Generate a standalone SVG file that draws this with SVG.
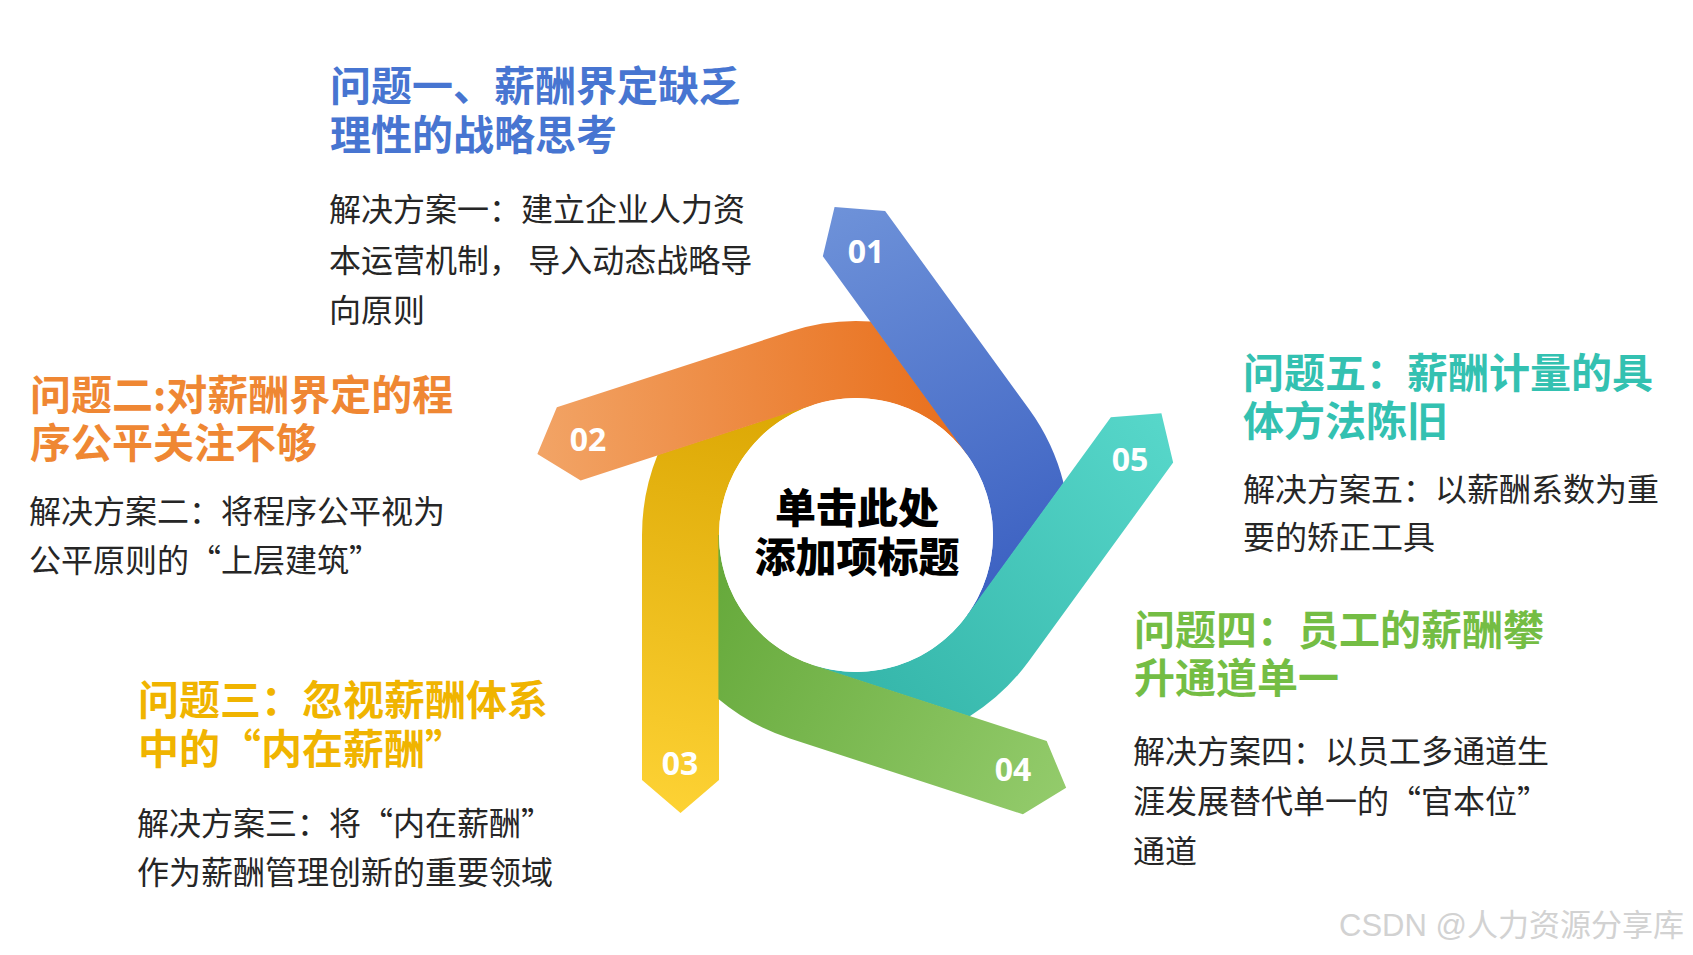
<svg xmlns="http://www.w3.org/2000/svg" width="1693" height="955" viewBox="0 0 1693 955">
  <defs>
    <linearGradient id="gBlue" gradientUnits="userSpaceOnUse" x1="680" y1="813" x2="760" y2="420">
      <stop offset="0" stop-color="#6E92D9"/>
      <stop offset="1" stop-color="#3E63C3"/>
    </linearGradient>
    <linearGradient id="gOrange" gradientUnits="userSpaceOnUse" x1="680" y1="813" x2="760" y2="420">
      <stop offset="0" stop-color="#F2A466"/>
      <stop offset="1" stop-color="#E97220"/>
    </linearGradient>
    <linearGradient id="gYellow" gradientUnits="userSpaceOnUse" x1="680" y1="813" x2="760" y2="420">
      <stop offset="0" stop-color="#FDD234"/>
      <stop offset="1" stop-color="#DDA906"/>
    </linearGradient>
    <linearGradient id="gGreen" gradientUnits="userSpaceOnUse" x1="680" y1="813" x2="760" y2="420">
      <stop offset="0" stop-color="#93CB6B"/>
      <stop offset="1" stop-color="#67AA3C"/>
    </linearGradient>
    <linearGradient id="gTeal" gradientUnits="userSpaceOnUse" x1="680" y1="813" x2="760" y2="420">
      <stop offset="0" stop-color="#57D7CA"/>
      <stop offset="1" stop-color="#36B7AB"/>
    </linearGradient>
    <path id="arm" d="M 719 535 L 719 780 L 680.5 813 L 642 780 L 642 535 A 214 214 0 0 1 657.60 454.81 L 813.48 404.13 L 813.66 404.71 A 137 137 0 0 0 719 535 Z"/>
  </defs>
  <style>
    .t { font-family: "Noto Sans CJK SC", "Noto Sans", sans-serif; font-size: 41px; font-weight: 700; }
    .b { font-family: "Noto Sans CJK SC", "Noto Sans", sans-serif; font-size: 32px; fill: #262626; }
    .num { font-family: "Open Sans", "Noto Sans", sans-serif; font-size: 32px; font-weight: 700; fill: #FFFFFF; text-anchor: middle; }
    .center { font-family: "Noto Sans CJK SC", sans-serif; font-size: 41px; font-weight: 900; fill: #000000; text-anchor: middle; }
    .wm { font-family: "Liberation Sans", "Noto Sans CJK SC", sans-serif; font-size: 31px; fill: #D2D2D2; }
  </style>
  <rect width="1693" height="955" fill="#FFFFFF"/>

  <g id="connectors">
    <g id="arm03"><use href="#arm" fill="url(#gYellow)"/></g>
    <g id="arm02"><use href="#arm" fill="url(#gOrange)" transform="rotate(72 856 535)"/></g>
    <g id="arm01"><use href="#arm" fill="url(#gBlue)" transform="rotate(144 856 535)"/></g>
    <g id="arm05"><use href="#arm" fill="url(#gTeal)" transform="rotate(216 856 535)"/></g>
    <g id="arm04"><use href="#arm" fill="url(#gGreen)" transform="rotate(288 856 535)"/></g>
  </g>

  <g id="numbers">
    <text class="num" x="866" y="263">01</text>
    <text class="num" x="588" y="451">02</text>
    <text class="num" x="680" y="775">03</text>
    <text class="num" x="1013" y="781">04</text>
    <text class="num" x="1130" y="471">05</text>
  </g>

  <g id="hub">
    <circle cx="856" cy="535" r="137" fill="#FFFFFF"/>
    <text class="center" x="857" y="523">单击此处</text>
    <text class="center" x="857" y="572">添加项标题</text>
  </g>

  <g id="item1">
    <text class="t" fill="#4775D1" x="330" y="101">问题一、薪酬界定缺乏</text>
    <text class="t" fill="#4775D1" x="330" y="150">理性的战略思考</text>
    <text class="b" x="329" y="221">解决方案一：建立企业人力资</text>
    <text class="b" x="329" y="271.5">本运营机制， 导入动态战略导</text>
    <text class="b" x="329" y="322">向原则</text>
  </g>

  <g id="item2">
    <text class="t" fill="#EF8733" x="30" y="410">问题二:对薪酬界定的程</text>
    <text class="t" fill="#EF8733" x="30" y="458">序公平关注不够</text>
    <text class="b" x="29" y="523">解决方案二：将程序公平视为</text>
    <text class="b" x="29" y="572">公平原则的“上层建筑”</text>
  </g>

  <g id="item3">
    <text class="t" fill="#F0B400" x="138" y="715">问题三：忽视薪酬体系</text>
    <text class="t" fill="#F0B400" x="138" y="764">中的“内在薪酬”</text>
    <text class="b" x="137" y="835">解决方案三：将“内在薪酬”</text>
    <text class="b" x="137" y="884">作为薪酬管理创新的重要领域</text>
  </g>

  <g id="item4">
    <text class="t" fill="#74BD44" x="1134" y="645">问题四：员工的薪酬攀</text>
    <text class="t" fill="#74BD44" x="1134" y="693">升通道单一</text>
    <text class="b" x="1133" y="763">解决方案四：以员工多通道生</text>
    <text class="b" x="1133" y="813">涯发展替代单一的“官本位”</text>
    <text class="b" x="1133" y="863">通道</text>
  </g>

  <g id="item5">
    <text class="t" fill="#33C1B1" x="1243" y="388">问题五：薪酬计量的具</text>
    <text class="t" fill="#33C1B1" x="1243" y="436">体方法陈旧</text>
    <text class="b" x="1243" y="501">解决方案五：以薪酬系数为重</text>
    <text class="b" x="1243" y="549">要的矫正工具</text>
  </g>

  <text class="wm" x="1339" y="936">CSDN @人力资源分享库</text>
</svg>
